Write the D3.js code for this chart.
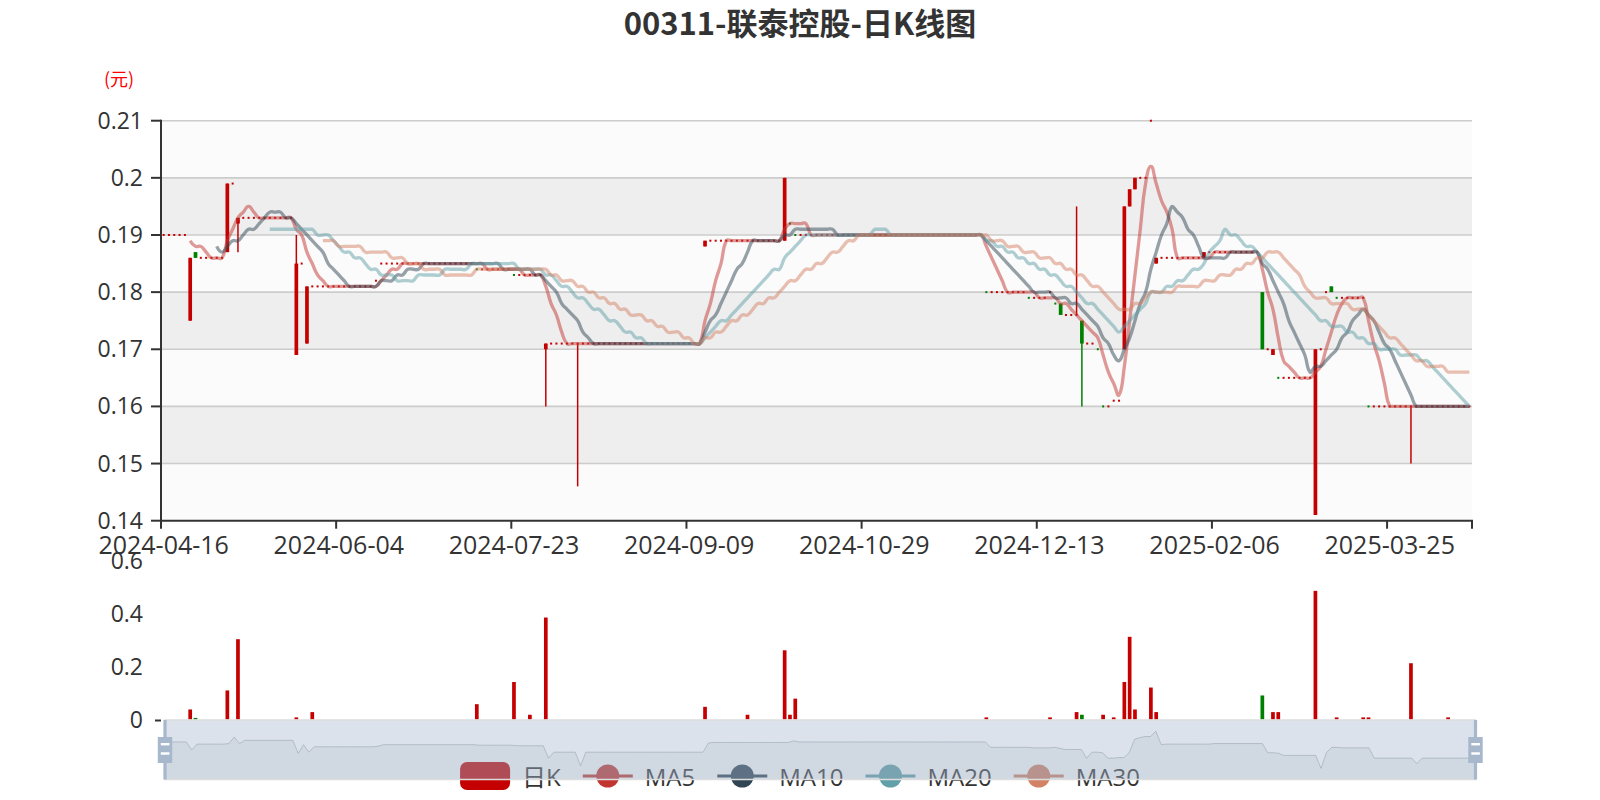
<!DOCTYPE html>
<html><head><meta charset="utf-8">
<script src="https://cdn.jsdelivr.net/npm/d3@7"></script>
<style>body{margin:0;background:#fff}svg{display:block}</style>
</head><body><svg id="c" width="1600" height="800"></svg>
<script>
const dates = [
"2024-04-16","2024-04-17","2024-04-18","2024-04-19","2024-04-22","2024-04-23","2024-04-24","2024-04-25","2024-04-26","2024-04-29","2024-04-30",
"2024-05-02","2024-05-03","2024-05-06","2024-05-07","2024-05-08","2024-05-09","2024-05-10","2024-05-13","2024-05-14","2024-05-16","2024-05-17","2024-05-20","2024-05-21","2024-05-22","2024-05-23","2024-05-24","2024-05-27","2024-05-28","2024-05-29","2024-05-30","2024-05-31",
"2024-06-03","2024-06-04","2024-06-05","2024-06-06","2024-06-07","2024-06-11","2024-06-12","2024-06-13","2024-06-14","2024-06-17","2024-06-18","2024-06-19","2024-06-20","2024-06-21","2024-06-24","2024-06-25","2024-06-26","2024-06-27","2024-06-28",
"2024-07-02","2024-07-03","2024-07-04","2024-07-05","2024-07-08","2024-07-09","2024-07-10","2024-07-11","2024-07-12","2024-07-15","2024-07-16","2024-07-17","2024-07-18","2024-07-19","2024-07-22","2024-07-23","2024-07-24","2024-07-25","2024-07-26","2024-07-29","2024-07-30","2024-07-31",
"2024-08-01","2024-08-02","2024-08-05","2024-08-06","2024-08-07","2024-08-08","2024-08-09","2024-08-12","2024-08-13","2024-08-14","2024-08-15","2024-08-16","2024-08-19","2024-08-20","2024-08-21","2024-08-22","2024-08-23","2024-08-26","2024-08-27","2024-08-28","2024-08-29","2024-08-30",
"2024-09-02","2024-09-03","2024-09-04","2024-09-05","2024-09-09","2024-09-10","2024-09-11","2024-09-12","2024-09-13","2024-09-16","2024-09-17","2024-09-19","2024-09-20","2024-09-23","2024-09-24","2024-09-25","2024-09-26","2024-09-27","2024-09-30",
"2024-10-02","2024-10-03","2024-10-04","2024-10-07","2024-10-08","2024-10-09","2024-10-10","2024-10-14","2024-10-15","2024-10-16","2024-10-17","2024-10-18","2024-10-21","2024-10-22","2024-10-23","2024-10-24","2024-10-25","2024-10-28","2024-10-29","2024-10-30","2024-10-31",
"2024-11-01","2024-11-04","2024-11-05","2024-11-06","2024-11-07","2024-11-08","2024-11-11","2024-11-12","2024-11-13","2024-11-14","2024-11-15","2024-11-18","2024-11-19","2024-11-20","2024-11-21","2024-11-22","2024-11-25","2024-11-26","2024-11-27","2024-11-28","2024-11-29",
"2024-12-02","2024-12-03","2024-12-04","2024-12-05","2024-12-06","2024-12-09","2024-12-10","2024-12-11","2024-12-12","2024-12-13","2024-12-16","2024-12-17","2024-12-18","2024-12-19","2024-12-20","2024-12-23","2024-12-24","2024-12-27","2024-12-30","2024-12-31",
"2025-01-02","2025-01-03","2025-01-06","2025-01-07","2025-01-08","2025-01-09","2025-01-10","2025-01-13","2025-01-14","2025-01-15","2025-01-16","2025-01-17","2025-01-20","2025-01-21","2025-01-22","2025-01-23","2025-01-24","2025-01-27","2025-01-28",
"2025-02-03","2025-02-04","2025-02-05","2025-02-06","2025-02-07","2025-02-10","2025-02-11","2025-02-12","2025-02-13","2025-02-14","2025-02-17","2025-02-18","2025-02-19","2025-02-20","2025-02-21","2025-02-24","2025-02-25","2025-02-26","2025-02-27","2025-02-28",
"2025-03-03","2025-03-04","2025-03-05","2025-03-06","2025-03-07","2025-03-10","2025-03-11","2025-03-12","2025-03-13","2025-03-14","2025-03-17","2025-03-18","2025-03-19","2025-03-20","2025-03-21","2025-03-24","2025-03-25","2025-03-26","2025-03-27","2025-03-28","2025-03-31",
"2025-04-01","2025-04-02","2025-04-03","2025-04-07","2025-04-08","2025-04-09","2025-04-10","2025-04-11","2025-04-14","2025-04-15","2025-04-16"
];

const opens = [
.19,.19,.19,.19,.19,.175,.187,.186,.186,.186,
.186,.186,.187,.199,.192,.193,.193,.193,.193,.193,
.193,.193,.193,.193,.193,.169,.185,.171,.181,.181,
.181,.181,.181,.181,.181,.181,.181,.181,.181,.181,
.182,.185,.185,.185,.185,.185,.185,.185,.185,.185,
.185,.185,.185,.185,.185,.185,.185,.185,.185,.184,
.184,.184,.184,.184,.184,.184,.183,.183,.183,.183,
.183,.183,.170,.171,.171,.171,.171,.171,.171,.171,
.171,.171,.171,.171,.171,.171,.171,.171,.171,.171,
.171,.171,.171,.171,.171,.171,.171,.171,.171,.171,
.171,.171,.188,.189,.189,.189,.189,.189,.189,.189,
.189,.189,.189,.189,.189,.189,.189,.189,.192,.19,
.19,.19,.19,.19,.19,.19,.19,.19,.19,.19,
.19,.19,.19,.19,.19,.19,.19,.19,.19,.19,
.19,.19,.19,.19,.19,.19,.19,.19,.19,.19,
.19,.19,.19,.19,.19,.18,.18,.18,.18,.18,
.18,.18,.18,.179,.179,.179,.179,.18,.178,.178,
.176,.176,.176,.175,.171,.171,.17,.16,.16,.161,
.161,.17,.195,.198,.2,.2,.21,.185,.186,.186,
.186,.186,.186,.186,.186,.186,.186,.187,.187,.187,
.187,.187,.187,.187,.187,.187,.187,.18,.17,.169,
.165,.165,.165,.165,.165,.165,.165,.141,.17,.18,
.181,.179,.179,.179,.179,.179,.179,.16,.16,.16,
.16,.16,.16,.16,.16,.16,.16,.16,.16,.16,
.16,.16,.16,.16,.16,.16,.16
];
const closes = [
.19,.19,.19,.19,.19,.186,.186,.186,.186,.186,
.186,.186,.199,.199,.193,.193,.193,.193,.193,.193,
.193,.193,.193,.193,.193,.185,.185,.181,.181,.181,
.181,.181,.181,.181,.181,.181,.181,.181,.181,.181,
.182,.185,.185,.185,.185,.185,.185,.185,.185,.185,
.185,.185,.185,.185,.185,.185,.185,.185,.185,.184,
.184,.184,.184,.184,.184,.184,.183,.183,.183,.183,
.183,.183,.171,.171,.171,.171,.171,.171,.171,.171,
.171,.171,.171,.171,.171,.171,.171,.171,.171,.171,
.171,.171,.171,.171,.171,.171,.171,.171,.171,.171,
.171,.171,.189,.189,.189,.189,.189,.189,.189,.189,
.189,.189,.189,.189,.189,.189,.189,.2,.192,.19,
.19,.19,.19,.19,.19,.19,.19,.19,.19,.19,
.19,.19,.19,.19,.19,.19,.19,.19,.19,.19,
.19,.19,.19,.19,.19,.19,.19,.19,.19,.19,
.19,.19,.19,.19,.19,.18,.18,.18,.18,.18,
.18,.18,.18,.179,.179,.179,.179,.18,.178,.176,
.176,.176,.176,.171,.171,.171,.17,.16,.16,.161,
.161,.195,.198,.2,.2,.2,.21,.186,.186,.186,
.186,.186,.186,.186,.186,.186,.187,.187,.187,.187,
.187,.187,.187,.187,.187,.187,.187,.17,.17,.17,
.165,.165,.165,.165,.165,.165,.165,.17,.17,.18,
.18,.179,.179,.179,.179,.179,.179,.16,.16,.16,
.16,.16,.16,.16,.16,.16,.16,.16,.16,.16,
.16,.16,.16,.16,.16,.16,.16
];
const lows = [
.19,.19,.19,.19,.19,.175,.186,.186,.186,.186,
.186,.186,.187,.199,.187,.193,.193,.193,.193,.193,
.193,.193,.193,.193,.193,.169,.185,.171,.181,.181,
.181,.181,.181,.181,.181,.181,.181,.181,.181,.181,
.182,.185,.185,.185,.185,.185,.185,.185,.185,.185,
.185,.185,.185,.185,.185,.185,.185,.185,.185,.184,
.184,.184,.184,.184,.184,.184,.183,.183,.183,.183,
.183,.183,.16,.171,.171,.171,.171,.171,.146,.171,
.171,.171,.171,.171,.171,.171,.171,.171,.171,.171,
.171,.171,.171,.171,.171,.171,.171,.171,.171,.171,
.171,.171,.188,.189,.189,.189,.189,.189,.189,.189,
.189,.189,.189,.189,.189,.189,.189,.189,.192,.19,
.19,.19,.19,.19,.19,.19,.19,.19,.19,.19,
.19,.19,.19,.19,.19,.19,.19,.19,.19,.19,
.19,.19,.19,.19,.19,.19,.19,.19,.19,.19,
.19,.19,.19,.19,.19,.18,.18,.18,.18,.18,
.18,.18,.18,.179,.179,.179,.179,.18,.178,.176,
.176,.176,.176,.16,.171,.171,.17,.16,.16,.161,
.161,.17,.195,.198,.2,.2,.21,.185,.186,.186,
.186,.186,.186,.186,.186,.186,.186,.187,.187,.187,
.187,.187,.187,.187,.187,.187,.187,.17,.17,.169,
.165,.165,.165,.165,.165,.165,.165,.141,.17,.18,
.18,.179,.179,.179,.179,.179,.179,.16,.16,.16,
.16,.16,.16,.16,.16,.15,.16,.16,.16,.16,
.16,.16,.16,.16,.16,.16,.16
];
const highs = [
.19,.19,.19,.19,.19,.186,.187,.186,.186,.186,
.186,.186,.199,.199,.193,.193,.193,.193,.193,.193,
.193,.193,.193,.193,.193,.19,.185,.181,.181,.181,
.181,.181,.181,.181,.181,.181,.181,.181,.181,.181,
.182,.185,.185,.185,.185,.185,.185,.185,.185,.185,
.185,.185,.185,.185,.185,.185,.185,.185,.185,.184,
.184,.184,.184,.184,.184,.184,.183,.183,.183,.183,
.183,.183,.171,.171,.171,.171,.171,.171,.171,.171,
.171,.171,.171,.171,.171,.171,.171,.171,.171,.171,
.171,.171,.171,.171,.171,.171,.171,.171,.171,.171,
.171,.171,.189,.189,.189,.189,.189,.189,.189,.189,
.189,.189,.189,.189,.189,.189,.189,.2,.192,.19,
.19,.19,.19,.19,.19,.19,.19,.19,.19,.19,
.19,.19,.19,.19,.19,.19,.19,.19,.19,.19,
.19,.19,.19,.19,.19,.19,.19,.19,.19,.19,
.19,.19,.19,.19,.19,.18,.18,.18,.18,.18,
.18,.18,.18,.179,.179,.179,.179,.18,.178,.178,
.176,.176,.195,.175,.171,.171,.17,.16,.16,.161,
.161,.195,.198,.2,.2,.2,.21,.186,.186,.186,
.186,.186,.186,.186,.186,.186,.187,.187,.187,.187,
.187,.187,.187,.187,.187,.187,.187,.18,.17,.17,
.165,.165,.165,.165,.165,.165,.165,.17,.17,.18,
.181,.179,.179,.179,.179,.179,.179,.16,.16,.16,
.16,.16,.16,.16,.16,.16,.16,.16,.16,.16,
.16,.16,.16,.16,.16,.16,.16
];
const volumes = [
0,0,0,0,0,.038,.006,0,0,0,
0,0,.11,0,.304,0,0,0,0,0,
0,0,0,0,0,.008,0,0,.028,0,
0,0,0,0,0,0,0,0,0,0,
0,0,0,0,0,0,0,0,0,0,
0,0,0,0,0,0,0,0,0,.058,
0,0,0,0,0,0,.142,0,0,.018,
0,0,.386,0,0,0,0,0,0,0,
0,0,0,0,0,0,0,0,0,0,
0,0,0,0,0,0,0,0,0,0,
0,0,.048,0,0,0,0,0,0,0,
.018,0,0,0,0,0,0,.262,.018,.079,
0,0,0,0,0,0,0,0,0,0,
0,0,0,0,0,0,0,0,0,0,
0,0,0,0,0,0,0,0,0,0,
0,0,0,0,0,.008,0,0,0,0,
0,0,0,0,0,0,0,.008,0,0,
0,0,.028,.018,0,0,0,.018,0,.008,
0,.142,.313,.038,0,0,.121,.028,0,0,
0,0,0,0,0,0,0,0,0,0,
0,0,0,0,0,0,0,.091,0,.028,
.028,0,0,0,0,0,0,.487,0,0,
0,.008,0,0,0,0,.008,.008,0,0,
0,0,0,0,0,.213,0,0,0,0,
0,0,.008,0,0,0,0
];
const priceTicks = [0.14, 0.15, 0.16, 0.17, 0.18, 0.19, 0.2, 0.21];
const volumeTicks = [0, 0.2, 0.4, 0.6];
const maPeriods = [5, 10, 20, 30];
const maNames = ["MA5", "MA10", "MA20", "MA30"];
const maColors = ["#c23531", "#2f4554", "#61a0a8", "#d48265"];
const titleText = "00311-联泰控股-日K线图";
const unitText = "(元)";
const candleName = "日K";

const UP = "#c40000", DOWN = "#008000";
const LATIN = "'Open Sans','Noto Sans CJK SC',sans-serif";
const svg = d3.select("#c");
const N = dates.length;
const G = {left: 161, right: 1472, top: 120.7, bottom: 520.7};
const V = {top: 561, bottom: 719.5};
const x = d3.scaleBand().domain(d3.range(N)).range([G.left, G.right]).padding(0);
const cx = i => x(i) + x.bandwidth() / 2;
const y = d3.scaleLinear().domain([0.14, 0.21]).range([G.bottom, G.top]);
const yv = d3.scaleLinear().domain([0, 0.6]).range([V.bottom, V.top]);
const fmt = v => String(+v.toFixed(2));

// split areas
for (let k = 0; k < priceTicks.length - 1; k++) {
  svg.append("rect").attr("x", G.left).attr("width", G.right - G.left)
    .attr("y", y(priceTicks[k + 1])).attr("height", y(priceTicks[k]) - y(priceTicks[k + 1]))
    .attr("fill", k % 2 === 0 ? "#fbfbfb" : "#eeeeee");
}
// grid lines
svg.append("g").selectAll("line").data(priceTicks.slice(1)).join("line")
  .attr("x1", G.left).attr("x2", G.right).attr("y1", d => y(d)).attr("y2", d => y(d))
  .attr("stroke", "#cccccc").attr("stroke-width", 1.6);

// y axis
const ya = svg.append("g");
ya.append("line").attr("x1", G.left).attr("x2", G.left).attr("y1", G.top - 1).attr("y2", G.bottom + 1)
  .attr("stroke", "#333").attr("stroke-width", 2);
ya.selectAll(".t").data(priceTicks).join("line").attr("x1", G.left - 10).attr("x2", G.left)
  .attr("y1", d => y(d)).attr("y2", d => y(d)).attr("stroke", "#333").attr("stroke-width", 2);
ya.selectAll("text").data(priceTicks).join("text").attr("x", 143).attr("y", d => y(d) + 8)
  .attr("text-anchor", "end").attr("font-family", LATIN).attr("font-size", 23).attr("fill", "#333")
  .text(fmt);

// x axis
const labelIdx = d3.range(0, N, 33);
const xa = svg.append("g");
xa.append("line").attr("x1", G.left - 1).attr("x2", G.right + 1).attr("y1", G.bottom).attr("y2", G.bottom)
  .attr("stroke", "#333").attr("stroke-width", 2);
xa.selectAll(".t").data(labelIdx.map(i => x(i)).concat([G.right])).join("line")
  .attr("x1", d => d).attr("x2", d => d).attr("y1", G.bottom).attr("y2", G.bottom + 8)
  .attr("stroke", "#333").attr("stroke-width", 2);
xa.selectAll("text").data(labelIdx).join("text").attr("x", i => cx(i)).attr("y", 554)
  .attr("text-anchor", "middle").attr("font-family", LATIN).attr("font-size", 25).attr("fill", "#333")
  .text(i => dates[i]);

// unit label
svg.append("text").attr("x", 119).attr("y", 86).attr("text-anchor", "middle")
  .attr("font-family", "'Noto Sans CJK SC',sans-serif").attr("font-size", 18).attr("fill", "#ff0000")
  .text(unitText);

// candles
const sign = i => opens[i] > closes[i] ? -1 : opens[i] < closes[i] ? 1 :
  (i > 0 ? (closes[i - 1] <= closes[i] ? 1 : -1) : 1);
const cg = svg.append("g");
const bodyW = 3.7;
for (let i = 0; i < N; i++) {
  const col = sign(i) > 0 ? UP : DOWN;
  const xc = cx(i);
  if (highs[i] > lows[i]) {
    cg.append("line").attr("x1", xc).attr("x2", xc).attr("y1", y(highs[i])).attr("y2", y(lows[i]))
      .attr("stroke", col).attr("stroke-width", 1.5);
  }
  if (opens[i] !== closes[i]) {
    const t = y(Math.max(opens[i], closes[i])), b = y(Math.min(opens[i], closes[i]));
    cg.append("rect").attr("x", xc - bodyW / 2).attr("width", bodyW).attr("y", t).attr("height", b - t).attr("fill", col);
  } else {
    cg.append("rect").attr("x", xc - 1).attr("width", 2).attr("y", y(closes[i]) - 1).attr("height", 2).attr("fill", col);
  }
}

// moving averages (rounded to 3 decimals, ECharts-style smoothing)
function calcMA(n) {
  const r = [];
  for (let i = 0; i < N; i++) {
    if (i < n) { r.push(null); continue; }
    let s = 0; for (let j = 0; j < n; j++) s += closes[i - j];
    r.push(+(s / n).toFixed(3));
  }
  return r;
}
function smoothPath(pts, smooth) {
  let minX = d3.min(pts, p => p[0]), maxX = d3.max(pts, p => p[0]);
  let minY = d3.min(pts, p => p[1]), maxY = d3.max(pts, p => p[1]);
  const cl = c => [Math.min(Math.max(c[0], minX), maxX), Math.min(Math.max(c[1], minY), maxY)];
  let d = "M" + pts[0][0] + "," + pts[0][1];
  let cp0 = pts[0].slice();
  for (let k = 1; k < pts.length; k++) {
    const p = pts[k], pp = pts[k - 1], np = pts[k + 1];
    let cp1, ratio = 0.5, v = [0, 0];
    if (!np) cp1 = p.slice();
    else {
      v = [np[0] - pp[0], np[1] - pp[1]];
      const l0 = Math.hypot(p[0] - pp[0], p[1] - pp[1]);
      const l1 = Math.hypot(np[0] - p[0], np[1] - p[1]);
      ratio = (l0 + l1) ? l1 / (l0 + l1) : 0.5;
      cp1 = [p[0] - v[0] * smooth * (1 - ratio), p[1] - v[1] * smooth * (1 - ratio)];
    }
    const a = cl(cp0), b = cl(cp1);
    d += "C" + a[0] + "," + a[1] + " " + b[0] + "," + b[1] + " " + p[0] + "," + p[1];
    cp0 = [p[0] + v[0] * smooth * ratio, p[1] + v[1] * smooth * ratio];
  }
  return d;
}
const mg = svg.append("g");
maPeriods.forEach((n, k) => {
  const ma = calcMA(n);
  const pts = [];
  ma.forEach((v, i) => { if (v != null) pts.push([cx(i), y(v)]); });
  mg.append("path").attr("d", smoothPath(pts, 0.5)).attr("fill", "none")
    .attr("stroke", maColors[k]).attr("stroke-width", 3.3).attr("stroke-opacity", 0.5)
    .attr("stroke-linejoin", "round");
});

// volume
const vg = svg.append("g");
volumes.forEach((v, i) => {
  if (!v) return;
  vg.append("rect").attr("x", cx(i) - bodyW / 2).attr("width", bodyW)
    .attr("y", yv(v)).attr("height", yv(0) - yv(v))
    .attr("fill", closes[i] >= opens[i] ? UP : DOWN);
});
vg.selectAll("text").data(volumeTicks).join("text").attr("x", 143).attr("y", d => yv(d) + 8)
  .attr("text-anchor", "end").attr("font-family", LATIN).attr("font-size", 23).attr("fill", "#333")
  .text(d => String(d));
vg.append("line").attr("x1", 155).attr("x2", 161).attr("y1", V.bottom + 1).attr("y2", V.bottom + 1)
  .attr("stroke", "#333").attr("stroke-width", 2);

// legend
const lg = svg.append("g");
const items = [{name: candleName, color: UP, candle: true}].concat(maNames.map((n, k) => ({name: n, color: maColors[k]})));
items.forEach(it => {
  const t = lg.append("text").attr("font-family", LATIN).attr("font-size", 24).text(it.name);
  it.tw = t.node().getComputedTextLength(); t.remove();
});
const iconW = 50, iconGap = 12, itemGap = 22;
const totalW = d3.sum(items, it => iconW + iconGap + it.tw) + itemGap * (items.length - 1);
let lx = 800 - totalW / 2;
const ly = 776;
items.forEach(it => {
  if (it.candle) {
    lg.append("rect").attr("x", lx).attr("y", ly - 14).attr("width", iconW).attr("height", 28)
      .attr("rx", 7).attr("fill", it.color);
  } else {
    lg.append("line").attr("x1", lx).attr("x2", lx + iconW).attr("y1", ly).attr("y2", ly)
      .attr("stroke", it.color).attr("stroke-width", 3);
    lg.append("circle").attr("cx", lx + iconW / 2).attr("cy", ly).attr("r", 11.5).attr("fill", it.color);
  }
  lg.append("text").attr("x", lx + iconW + iconGap).attr("y", ly).attr("dominant-baseline", "central")
    .attr("font-family", LATIN).attr("font-size", 24).attr("fill", "#333").text(it.name);
  lx += iconW + iconGap + it.tw + itemGap;
});

// data zoom slider
const S = {left: 165, right: 1475.5, top: 720, bottom: 779.5};
const zg = svg.append("g");
const lowExt = d3.extent(lows);
const off = (lowExt[1] - lowExt[0]) * 0.3;
const ys = d3.scaleLinear().domain([lowExt[0] - off, lowExt[1] + off]).range([S.bottom, S.top]);
const xs = d3.scaleLinear().domain([0, N - 1]).range([S.left, S.right]);
const shadowPts = lows.map((v, i) => [xs(i), ys(v)]);
zg.append("path").attr("d", "M" + S.left + "," + S.bottom + "L" + shadowPts.map(p => p.join(",")).join("L") + "L" + S.right + "," + S.bottom + "Z")
  .attr("fill", "rgba(47,69,84,0.09)");
zg.append("path").attr("d", "M" + shadowPts.map(p => p.join(",")).join("L"))
  .attr("fill", "none").attr("stroke", "#2f4554").attr("stroke-opacity", 0.3).attr("stroke-width", 1);
zg.append("rect").attr("x", S.left).attr("y", S.top).attr("width", S.right - S.left).attr("height", S.bottom - S.top)
  .attr("fill", "rgba(167,183,204,0.4)");
zg.append("rect").attr("x", S.left).attr("y", S.top).attr("width", S.right - S.left).attr("height", S.bottom - S.top)
  .attr("fill", "none").attr("stroke", "#dddddd").attr("stroke-width", 1.5);
[S.left, S.right].forEach(hx => {
  zg.append("rect").attr("x", hx - 1.6).attr("y", S.top).attr("width", 3.2).attr("height", S.bottom - S.top).attr("fill", "#a7b7cc");
  zg.append("rect").attr("x", hx - 7.2).attr("y", 737).attr("width", 14.4).attr("height", 26).attr("fill", "#a7b7cc");
  zg.append("rect").attr("x", hx - 4.2).attr("y", 743).attr("width", 8.6).attr("height", 2.4).attr("fill", "#fff");
  zg.append("rect").attr("x", hx - 4.2).attr("y", 752.3).attr("width", 8.6).attr("height", 2.4).attr("fill", "#fff");
});

// title
svg.append("text").attr("x", 800).attr("y", 35).attr("text-anchor", "middle")
  .attr("font-family", "'Noto Sans CJK SC',sans-serif").attr("font-weight", "bold").attr("font-size", 31)
  .attr("fill", "#333").text(titleText);
</script>
</body></html>
